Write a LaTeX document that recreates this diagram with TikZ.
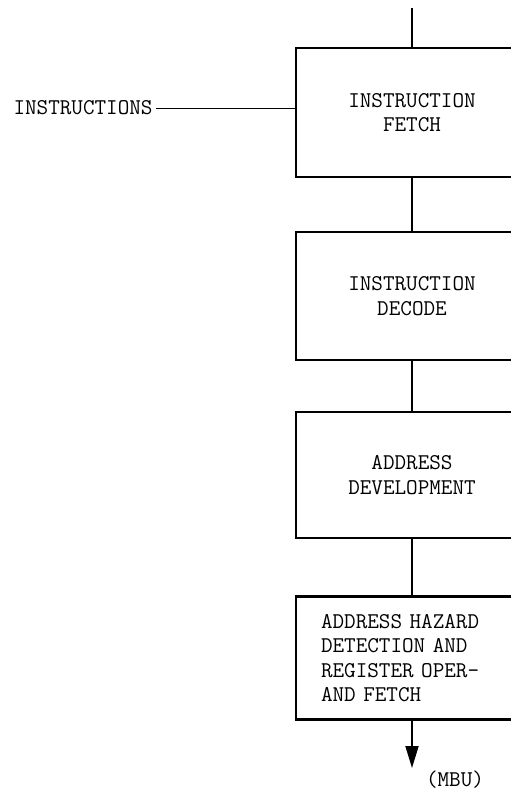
\documentclass[tikz,border=0pt]{standalone}
\usetikzlibrary{arrows.meta}

\begin{document}
\begin{tikzpicture}[
  x=1pt, y=-1pt,
  font=\ttfamily\fontsize{22.5}{24.5}\selectfont,
  stage/.style={draw, line width=2.8pt, align=center, minimum width=232pt, inner sep=2pt},
  link/.style={line width=1.8pt},
  feed/.style={line width=0.8pt},
  outarrow/.style={line width=1.8pt, -{Triangle[length=22pt, width=13pt]}}
]
\clip (0,0) rectangle (511,793);
\coordinate (Top) at (412,8);
\node[stage, minimum height=129pt] (Fetch) at (412,112.5) {INSTRUCTION\\FETCH};
\node[stage, minimum height=128pt] (Decode) at (412,296) {INSTRUCTION\\DECODE};
\node[stage, minimum height=126pt] (Address) at (412,475) {ADDRESS\\DEVELOPMENT};
\node[stage, minimum height=123pt, align=left, text width=182pt] (Hazard) at (412,658) {ADDRESS HAZARD\\DETECTION AND\\REGISTER OPER-\\AND FETCH};
\node[anchor=west] (Instr) at (10,108) {INSTRUCTIONS};
\coordinate (Out) at (412,768);
\node (Mbu) at (455,780) {(MBU)};

\draw[link] (Top) -- (Fetch);
\draw[link] (Fetch) -- (Decode);
\draw[link] (Decode) -- (Address);
\draw[link] (Address) -- (Hazard);
\draw[feed] (Instr.east) -- (Instr.east -| Fetch.west);
\draw[outarrow] (Hazard) -- (Out);
\end{tikzpicture}
\end{document}
